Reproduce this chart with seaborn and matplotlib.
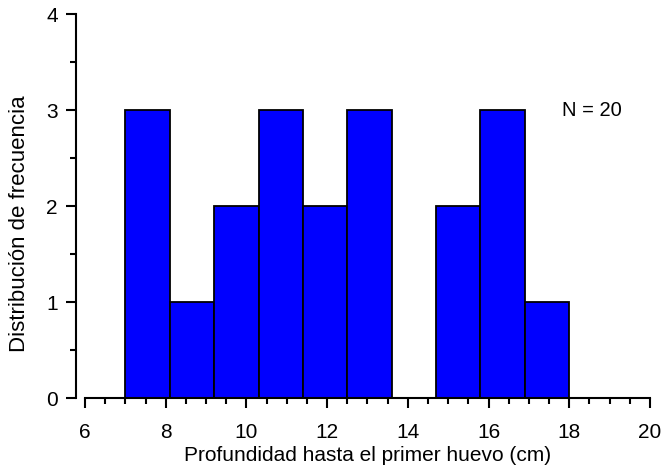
import numpy as np
import pandas as pd
import matplotlib
matplotlib.use("Agg")
import matplotlib.pyplot as plt
from matplotlib.ticker import MultipleLocator
import seaborn as sns

# Histogram of depth to the first egg (cm), 10 bins of 1.1 cm
bin_edges = [7.0, 8.1, 9.2, 10.3, 11.4, 12.5, 13.6, 14.7, 15.8, 16.9, 18.0]
counts = [3, 1, 2, 3, 2, 3, 0, 2, 3, 1]
x_ticks = [6, 8, 10, 12, 14, 16, 18, 20]
y_ticks = [0, 1, 2, 3, 4]
n_label = "N = 20"

centers = [(a + b) / 2 for a, b in zip(bin_edges[:-1], bin_edges[1:])]
df = pd.DataFrame({"profundidad": centers, "n": counts})

sns.set_style("white")
plt.rcParams["font.family"] = ["Liberation Sans", "DejaVu Sans"]
plt.rcParams.update({"text.color": "black", "axes.labelcolor": "black",
                     "xtick.color": "black", "ytick.color": "black"})

fig = plt.figure(figsize=(6.65, 4.70), dpi=100)
ax = fig.add_axes([76 / 665, 72 / 470, 579 / 665, 384 / 470])

sns.histplot(data=df, x="profundidad", weights="n", bins=bin_edges,
             color="#0000FF", alpha=1.0, edgecolor="black", linewidth=1.3,
             ax=ax)

ax.set_xlim(5.777, 20.124)
ax.set_ylim(0, 4)

for side in ("top", "right"):
    ax.spines[side].set_visible(False)
for side in ("left", "bottom"):
    ax.spines[side].set_linewidth(1.5)
    ax.spines[side].set_color("black")
ax.spines["bottom"].set_bounds(6, 20)
ax.spines["left"].set_bounds(0, 4)

ax.set_xticks(x_ticks)
ax.set_yticks(y_ticks)
ax.xaxis.set_minor_locator(MultipleLocator(0.5))
ax.yaxis.set_minor_locator(MultipleLocator(0.5))
ax.tick_params(axis="x", which="major", direction="out", length=7, width=1.5,
               pad=11, labelsize=15, bottom=True)
ax.tick_params(axis="x", which="minor", direction="out", length=4, width=1.5,
               bottom=True)
ax.tick_params(axis="y", which="major", direction="out", length=7, width=1.5,
               pad=6, labelsize=15, left=True)
ax.tick_params(axis="y", which="minor", direction="out", length=4, width=1.5,
               left=True)

ax.set_xlabel("Profundidad hasta el primer huevo (cm)", fontsize=15)
ax.set_ylabel("Distribución de frecuencia", fontsize=16)
ax.xaxis.label.set_va("center")
ax.yaxis.label.set_va("center")
ax.xaxis.set_label_coords(0.504, -0.151)
ax.yaxis.set_label_coords(-0.097, 0.453)

ax.text(18.56, 3.0, n_label, ha="center", va="center", fontsize=14.5)

fig.savefig("out.png", dpi=100)
